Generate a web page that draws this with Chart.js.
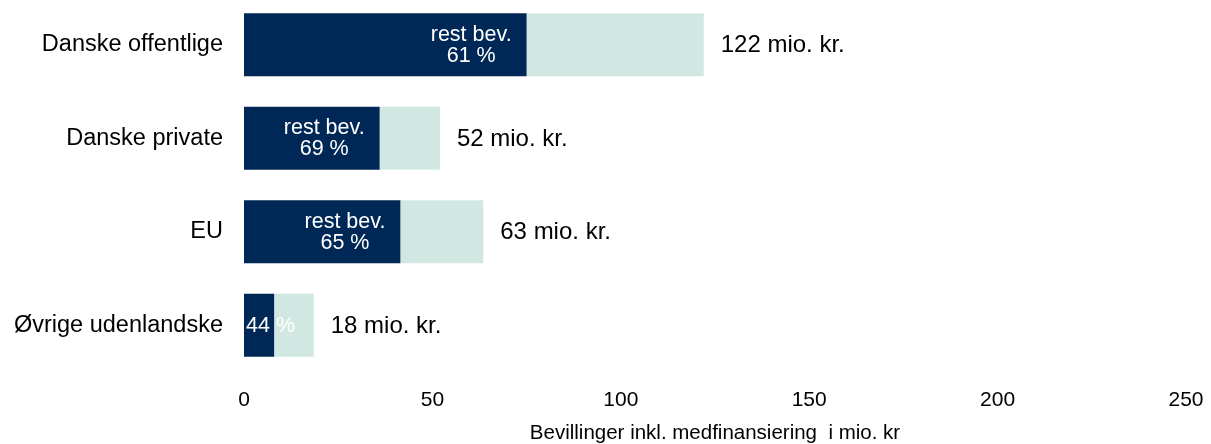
<!DOCTYPE html>
<html>
<head>
<meta charset="utf-8">
<script src="https://cdn.jsdelivr.net/npm/chart.js@4/dist/chart.umd.min.js"></script>
<style>
  html, body { margin: 0; padding: 0; background: #ffffff; overflow: hidden; }
  #wrap { position: absolute; left: 0; top: -10px; width: 1211px; height: 454px; }
</style>
</head>
<body>
<div id="wrap"><canvas id="c" width="1211" height="454"></canvas></div>
<script>
// ---- data ----
const categories = ['Danske offentlige', 'Danske private', 'EU', 'Øvrige udenlandske'];
const remaining  = [75, 36, 41.5, 8];      // dark part (rest bev.)
const used       = [47, 16, 22, 10.5];     // light part
const totals     = [122, 52, 63, 18];      // mio. kr.
const restPct    = [61, 69, 65, 44];
const xTicks     = [0, 50, 100, 150, 200, 250];
const xTitle     = 'Bevillinger inkl. medfinansiering  i mio. kr';

const DARK = '#002856';
const LIGHT = '#D1E8E2';
const FONT = "'Liberation Sans', Arial, Helvetica, sans-serif";

const labelPlugin = {
  id: 'labels',
  afterDatasetsDraw(chart) {
    const ctx = chart.ctx;
    const m0 = chart.getDatasetMeta(0);
    const m1 = chart.getDatasetMeta(1);
    ctx.save();
    for (let i = 0; i < categories.length; i++) {
      const d = m0.data[i];
      const l = m1.data[i];
      const y = d.y;
      // total label
      ctx.font = '24px ' + FONT;
      ctx.fillStyle = '#000000';
      ctx.textAlign = 'left';
      ctx.textBaseline = 'middle';
      ctx.fillText(totals[i] + ' mio. kr.', l.x + 17, y + 1);
      // inner label
      ctx.font = '21.5px ' + FONT;
      ctx.fillStyle = '#ffffff';
      ctx.textAlign = 'center';
      const start = Math.min(d.base, d.x);
      const end = Math.max(d.base, d.x);
      if (i < 3) {
        const l1 = 'rest bev.';
        const l2 = restPct[i] + ' %';
        const w = Math.max(ctx.measureText(l1).width, ctx.measureText(l2).width);
        const right = Math.max(end - 15, start + w + 2);
        const cx = right - w / 2;
        ctx.fillText(l1, cx, y - 10);
        ctx.fillText(l2, cx, y + 11);
      } else {
        const t = restPct[i] + ' %';
        const w = ctx.measureText(t).width;
        const right = Math.max(end - 15, start + w + 2);
        ctx.fillText(t, right - w / 2, y + 1);
      }
    }
    ctx.restore();
  }
};

new Chart(document.getElementById('c'), {
  type: 'bar',
  data: {
    labels: categories,
    datasets: [
      { data: remaining, backgroundColor: DARK, borderWidth: 0, barPercentage: 0.673, categoryPercentage: 1 },
      { data: used, backgroundColor: LIGHT, borderWidth: 0, barPercentage: 0.673, categoryPercentage: 1 }
    ]
  },
  options: {
    indexAxis: 'y',
    responsive: false,
    animation: false,
    events: [],
    layout: { padding: { top: 8, right: 25, bottom: 0, left: 0 } },
    plugins: { legend: { display: false }, tooltip: { enabled: false }, title: { display: false } },
    scales: {
      x: {
        stacked: true,
        min: 0, max: 250,
        afterBuildTicks(scale) { scale.ticks = xTicks.map(v => ({ value: v })); },
        grid: { display: false, drawTicks: false },
        border: { display: false },
        ticks: { color: '#000000', font: { family: FONT, size: 21 }, padding: 16, maxRotation: 0 },
        title: { display: true, text: xTitle, color: '#000000', font: { family: FONT, size: 20.5, lineHeight: 1 }, padding: { top: 0, bottom: 0 } },
        afterFit(scale) { scale.height = 72; scale.paddingLeft = 0; scale.paddingRight = 0; }
      },
      y: {
        stacked: true,
        grid: { display: false, drawTicks: false },
        border: { display: false },
        ticks: { color: '#000000', font: { family: FONT, size: 23.5 }, padding: 21 },
        afterFit(scale) { scale.width = 244; scale.paddingTop = 0; scale.paddingBottom = 0; }
      }
    }
  },
  plugins: [labelPlugin]
});
</script>
</body>
</html>
